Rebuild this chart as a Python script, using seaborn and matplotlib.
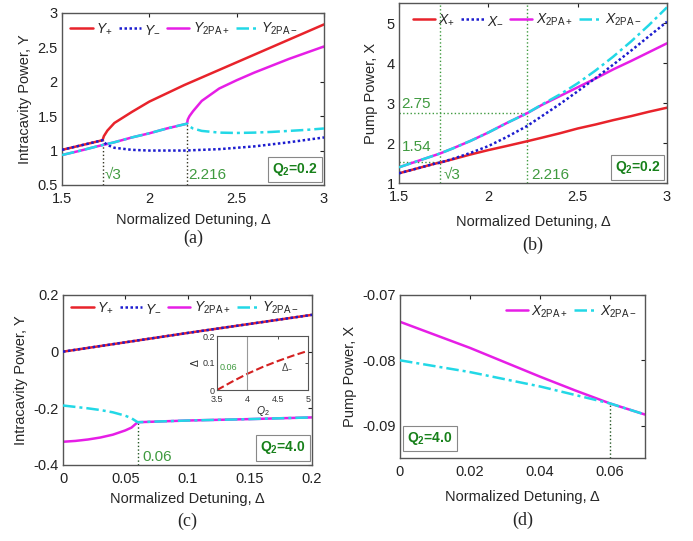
import numpy as np
import pandas as pd
import matplotlib
matplotlib.use("Agg")
import matplotlib.pyplot as plt
import seaborn as sns

sns.set_style("white")
plt.rcParams["font.family"] = ["Liberation Sans", "DejaVu Sans"]
plt.rcParams["mathtext.fontset"] = "custom"
plt.rcParams["mathtext.rm"] = "Liberation Sans"
plt.rcParams["mathtext.it"] = "Liberation Sans:italic"
plt.rcParams["mathtext.bf"] = "Liberation Sans:bold"

RED = "#e8232b"
BLUE = "#1c1ccf"
MAG = "#e61ee6"
CYAN = "#22d8e6"
GREEN = "#3f9a3f"
DKGREEN = "#17801a"

# ---------------- (a) intracavity power, Q2 = 0.2 ----------------
a_delta_plus = [1.5, 1.6, 1.7, 1.732, 1.74, 1.76, 1.8, 1.9, 2.0, 2.1, 2.2, 2.3, 2.4, 2.5, 2.6, 2.7, 2.8, 2.9, 3.0]
a_y_plus = [1.01, 1.07, 1.13, 1.15, 1.21, 1.29, 1.40, 1.56, 1.71, 1.83, 1.95, 2.06, 2.17, 2.28, 2.39, 2.50, 2.61, 2.72, 2.83]
a_delta_minus = [1.5, 1.6, 1.7, 1.732, 1.74, 1.76, 1.8, 1.9, 2.0, 2.2, 2.4, 2.6, 2.8, 3.0]
a_y_minus = [1.01, 1.07, 1.13, 1.15, 1.12, 1.08, 1.04, 1.01, 1.00, 1.00, 1.02, 1.06, 1.12, 1.19]
a_delta_2pa_p = [1.5, 1.6, 1.7, 1.8, 1.9, 2.0, 2.1, 2.216, 2.22, 2.23, 2.25, 2.3, 2.4, 2.5, 2.6, 2.7, 2.8, 2.9, 3.0]
a_y_2pa_p = [0.935, 0.995, 1.06, 1.12, 1.19, 1.25, 1.32, 1.39, 1.45, 1.50, 1.57, 1.72, 1.90, 2.02, 2.13, 2.23, 2.33, 2.42, 2.51]
a_delta_2pa_m = [1.5, 1.6, 1.7, 1.8, 1.9, 2.0, 2.1, 2.216, 2.23, 2.25, 2.3, 2.4, 2.5, 2.6, 2.7, 2.8, 2.9, 3.0]
a_y_2pa_m = [0.935, 0.995, 1.06, 1.12, 1.19, 1.25, 1.32, 1.39, 1.35, 1.32, 1.285, 1.26, 1.255, 1.26, 1.27, 1.285, 1.30, 1.32]
a_marks = [1.732, 2.216]
a_mark_tops = [1.15, 1.39]

# ---------------- (b) pump power, Q2 = 0.2 ----------------
b_delta = [1.5, 1.6, 1.7, 1.732, 1.8, 1.9, 2.0, 2.1, 2.216, 2.3, 2.4, 2.5, 2.6, 2.7, 2.8, 2.9, 3.0]
b_x_plus = [1.25, 1.37, 1.49, 1.52, 1.60, 1.72, 1.83, 1.93, 2.05, 2.14, 2.25, 2.37, 2.47, 2.58, 2.68, 2.79, 2.89]
b_x_minus = [1.25, 1.37, 1.49, 1.52, 1.61, 1.76, 1.93, 2.15, 2.43, 2.68, 2.98, 3.30, 3.63, 3.97, 4.32, 4.68, 5.04]
b_x_2pa_p = [1.40, 1.55, 1.70, 1.75, 1.87, 2.06, 2.27, 2.50, 2.75, 2.96, 3.18, 3.40, 3.62, 3.85, 4.06, 4.28, 4.50]
b_x_2pa_m = [1.40, 1.55, 1.70, 1.75, 1.87, 2.06, 2.27, 2.50, 2.75, 2.97, 3.22, 3.50, 3.82, 4.17, 4.55, 4.96, 5.40]
b_levels = [1.54, 2.75]

# ---------------- (c) intracavity power, Q2 = 4.0 ----------------
c_delta_top = [0.0, 0.05, 0.1, 0.15, 0.2]
c_y_top = [0.0, 0.033, 0.066, 0.098, 0.13]
c_delta_low = [0.0, 0.01, 0.02, 0.03, 0.04, 0.05, 0.055, 0.06, 0.1, 0.15, 0.2]
c_y_2pa_p = [-0.318, -0.315, -0.310, -0.303, -0.293, -0.278, -0.268, -0.249, -0.243, -0.238, -0.232]
c_y_2pa_m = [-0.190, -0.195, -0.200, -0.206, -0.214, -0.226, -0.235, -0.249, -0.243, -0.238, -0.232]
c_mark = 0.06
# inset: threshold detuning versus Q2
inset_q2 = [3.5, 3.75, 4.0, 4.25, 4.5, 4.75, 5.0]
inset_delta = [0.0, 0.031, 0.06, 0.085, 0.107, 0.127, 0.145]

# ---------------- (d) pump power, Q2 = 4.0 ----------------
d_delta = [0.0, 0.01, 0.02, 0.03, 0.04, 0.05, 0.06, 0.07]
d_x_2pa_p = [-0.0741, -0.0761, -0.0781, -0.0803, -0.0825, -0.0846, -0.0866, -0.0883]
d_x_2pa_m = [-0.0800, -0.0809, -0.0818, -0.0829, -0.0840, -0.0853, -0.0866, -0.0883]
d_mark = 0.06
d_mark_top = -0.0866

LW = 1.8
DOTTED = (0, (1.0, 1.0))
DASHDOT = (0, (5, 1.6, 1.2, 1.6))

fig = plt.figure(figsize=(6.93, 5.41), dpi=100)
W, H = 693, 541


def add_axes(l, r, t, b):
    return fig.add_axes([l / W, 1 - b / H, (r - l) / W, (b - t) / H])


def style(ax):
    for s in ax.spines.values():
        s.set_color("#555555")
        s.set_linewidth(1.0)
    ax.tick_params(direction="in", top=True, right=True, length=3, width=0.8,
                   labelsize=10.5, colors="#222222")
    ax.tick_params(axis="x", pad=5)
    ax.tick_params(axis="y", pad=3)


def line(ax, x, y, color, ls, label=None, zorder=2):
    sns.lineplot(x=x, y=y, ax=ax, color=color, linestyle=ls, linewidth=LW,
                 label=label, sort=False, zorder=zorder)


def qbox(ax, x, y, text, ha="right"):
    ax.text(x, y, text, transform=ax.transAxes, ha=ha, va="bottom", fontsize=10,
            fontweight="bold", color=DKGREEN,
            bbox=dict(boxstyle="square,pad=0.3", fc="white", ec="#888888", lw=0.8))


def legend(ax, ncol, loc, anchor):
    ax.legend(ncol=ncol, loc=loc, bbox_to_anchor=anchor, frameon=False, fontsize=10,
              handlelength=1.6, handletextpad=0.25, columnspacing=0.45, borderaxespad=0.2)


def caption(ax, y, text):
    ax.text(0.5, y, text, transform=ax.transAxes, ha="center", va="center",
            fontsize=13, family="Liberation Serif")


# ---- (a)
ax = add_axes(62, 324, 12.7, 185)
line(ax, a_delta_plus, a_y_plus, RED, "-", r"$Y_{+}$")
line(ax, a_delta_minus, a_y_minus, BLUE, DOTTED, r"$Y_{-}$", zorder=3)
line(ax, a_delta_2pa_p, a_y_2pa_p, MAG, "-", r"$Y_{\mathrm{2PA+}}$")
line(ax, a_delta_2pa_m, a_y_2pa_m, CYAN, DASHDOT, r"$Y_{\mathrm{2PA-}}$", zorder=3)
for xm, ym in zip(a_marks, a_mark_tops):
    ax.plot([xm, xm], [0.5, ym], color="#333322", ls=":", lw=1.0, zorder=1)
ax.text(1.745, 0.58, "√3", color=GREEN, fontsize=11)
ax.text(2.225, 0.58, "2.216", color=GREEN, fontsize=11)
ax.set_xlim(1.5, 3)
ax.set_ylim(0.5, 3)
ax.set_xticks([1.5, 2, 2.5, 3])
ax.set_xticklabels(["1.5", "2", "2.5", "3"])
ax.set_yticks([0.5, 1, 1.5, 2, 2.5, 3])
ax.set_yticklabels(["0.5", "1", "1.5", "2", "2.5", "3"])
ax.set_xlabel("Normalized Detuning, Δ", fontsize=10.5, labelpad=5)
ax.set_ylabel("Intracavity Power, Y", fontsize=10.5, labelpad=4)
style(ax)
legend(ax, 4, "upper left", (0.0, 1.0))
qbox(ax, 0.975, 0.04, r"$\mathbf{Q_2}$=0.2")
caption(ax, -0.31, "(a)")

# ---- (b)
ax = add_axes(399, 667, 3.3, 183.3)
line(ax, b_delta, b_x_plus, RED, "-", r"$X_{+}$")
line(ax, b_delta, b_x_minus, BLUE, DOTTED, r"$X_{-}$", zorder=3)
line(ax, b_delta, b_x_2pa_p, MAG, "-", r"$X_{\mathrm{2PA+}}$")
line(ax, b_delta, b_x_2pa_m, CYAN, DASHDOT, r"$X_{\mathrm{2PA-}}$", zorder=3)
for xm in a_marks:
    ax.axvline(xm, color=GREEN, ls=":", lw=1.0, zorder=1)
for xm, lev in zip(a_marks, b_levels):
    ax.plot([1.5, xm], [lev, lev], color=GREEN, ls=":", lw=1.0, zorder=1)
ax.text(1.75, 1.1, "√3", color=GREEN, fontsize=11)
ax.text(2.24, 1.1, "2.216", color=GREEN, fontsize=11)
ax.text(1.515, 1.8, "1.54", color=GREEN, fontsize=11)
ax.text(1.515, 2.88, "2.75", color=GREEN, fontsize=11)
ax.set_xlim(1.5, 3)
ax.set_ylim(1, 5.5)
ax.set_xticks([1.5, 2, 2.5, 3])
ax.set_xticklabels(["1.5", "2", "2.5", "3"])
ax.set_yticks([1, 2, 3, 4, 5])
ax.set_xlabel("Normalized Detuning, Δ", fontsize=10.5, labelpad=8)
ax.set_ylabel("Pump Power, X", fontsize=10.5, labelpad=6)
style(ax)
legend(ax, 4, "upper left", (0.02, 1.0))
qbox(ax, 0.975, 0.04, r"$\mathbf{Q_2}$=0.2")
caption(ax, -0.345, "(b)")

# ---- (c)
ax = add_axes(63, 312, 295, 465)
line(ax, c_delta_top, c_y_top, RED, "-", r"$Y_{+}$")
line(ax, c_delta_top, c_y_top, BLUE, DOTTED, r"$Y_{-}$", zorder=3)
line(ax, c_delta_low, c_y_2pa_p, MAG, "-", r"$Y_{\mathrm{2PA+}}$")
line(ax, c_delta_low, c_y_2pa_m, CYAN, DASHDOT, r"$Y_{\mathrm{2PA-}}$", zorder=3)
ax.plot([c_mark, c_mark], [-0.4, c_y_2pa_m[7]], color="#225522", ls=":", lw=1.0, zorder=1)
ax.text(0.064, -0.385, "0.06", color=GREEN, fontsize=11)
ax.set_xlim(0, 0.2)
ax.set_ylim(-0.4, 0.2)
ax.set_xticks([0, 0.05, 0.1, 0.15, 0.2])
ax.set_xticklabels(["0", "0.05", "0.1", "0.15", "0.2"])
ax.set_yticks([-0.4, -0.2, 0, 0.2])
ax.set_yticklabels(["-0.4", "-0.2", "0", "0.2"])
ax.set_xlabel("Normalized Detuning, Δ", fontsize=10.5, labelpad=4)
ax.set_ylabel("Intracavity Power, Y", fontsize=10.5, labelpad=4)
style(ax)
legend(ax, 4, "upper left", (0.0, 1.02))
qbox(ax, 0.975, 0.05, r"$\mathbf{Q_2}$=4.0")
caption(ax, -0.33, "(c)")

# inset
ins = add_axes(217, 308, 336, 390)
sns.lineplot(x=inset_q2, y=inset_delta, ax=ins, color="#d42020", linestyle="--",
             linewidth=1.5)
ins.axvline(4.0, color="#999999", lw=0.8)
ins.text(3.55, 0.075, "0.06", color=GREEN, fontsize=6.5)
ins.text(4.55, 0.075, r"$\Delta_{-}$", color="#444444", fontsize=7)
ins.set_xlim(3.5, 5)
ins.set_ylim(0, 0.2)
ins.set_xticks([3.5, 4, 4.5, 5])
ins.set_xticklabels(["3.5", "4", "4.5", "5"])
ins.set_yticks([0, 0.1, 0.2])
ins.set_yticklabels(["0", "0.1", "0.2"])
for s in ins.spines.values():
    s.set_color("#555555")
    s.set_linewidth(0.8)
ins.tick_params(direction="in", top=True, right=True, length=2, width=0.6,
                labelsize=6.5, colors="#333333")
ins.tick_params(axis="x", pad=3.5)
ins.tick_params(axis="y", pad=1.5)
ins.set_xlabel(r"$Q_2$", fontsize=7.5, labelpad=0)
ins.set_ylabel("Δ", fontsize=7.5, labelpad=1)

# ---- (d)
ax = add_axes(400, 645, 295, 458.3)
line(ax, d_delta, d_x_2pa_p, MAG, "-", r"$X_{\mathrm{2PA+}}$")
line(ax, d_delta, d_x_2pa_m, CYAN, DASHDOT, r"$X_{\mathrm{2PA-}}$", zorder=3)
ax.plot([d_mark, d_mark], [-0.095, d_mark_top], color="#225522", ls=":", lw=1.0, zorder=1)
ax.set_xlim(0, 0.07)
ax.set_ylim(-0.095, -0.07)
ax.set_xticks([0, 0.02, 0.04, 0.06])
ax.set_xticklabels(["0", "0.02", "0.04", "0.06"])
ax.set_yticks([-0.09, -0.08, -0.07])
ax.set_yticklabels(["-0.09", "-0.08", "-0.07"])
ax.set_xlabel("Normalized Detuning, Δ", fontsize=10.5, labelpad=8)
ax.set_ylabel("Pump Power, X", fontsize=10.5, labelpad=4)
style(ax)
legend(ax, 2, "upper right", (1.0, 1.0))
qbox(ax, 0.03, 0.07, r"$\mathbf{Q_2}$=4.0", ha="left")
caption(ax, -0.38, "(d)")

fig.savefig("out.png", dpi=100)
